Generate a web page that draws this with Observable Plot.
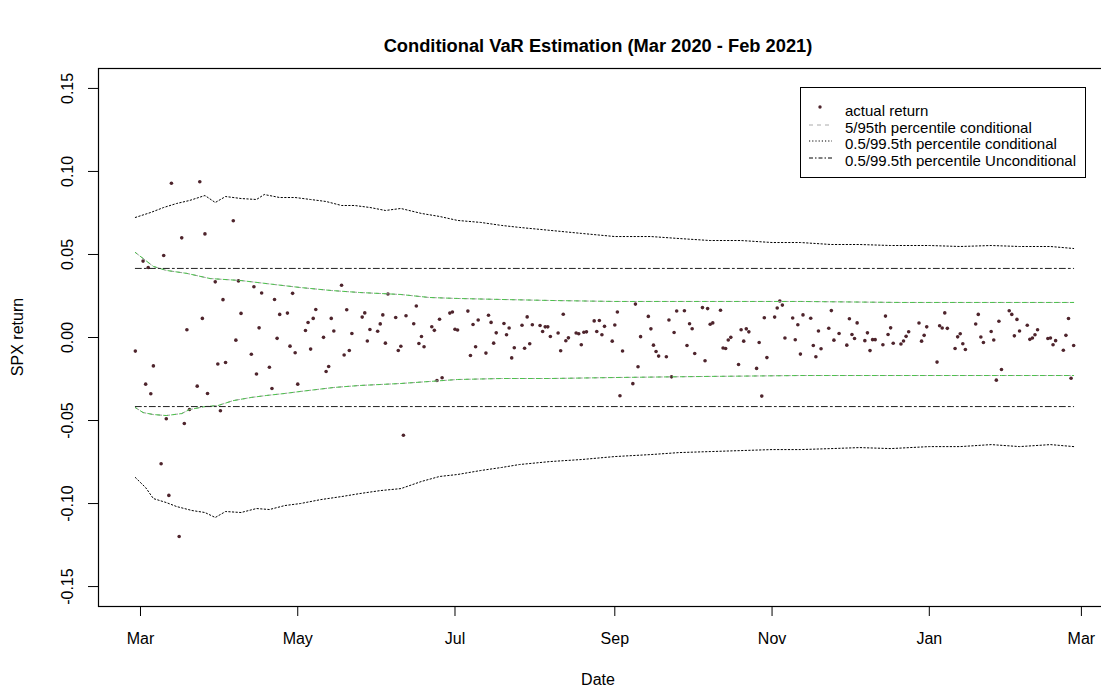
<!DOCTYPE html>
<html><head><meta charset="utf-8">
<script src="https://cdn.jsdelivr.net/npm/d3@7"></script>
<script src="https://cdn.jsdelivr.net/npm/@observablehq/plot@0.6"></script>
<style>
html,body{margin:0;padding:0;overflow:hidden;background:#fff;}
#wrap{position:relative;width:1101px;height:694px;overflow:hidden;font-family:"Liberation Sans",Arial,sans-serif;color:#000;}
#chart{position:absolute;left:0;top:0;width:1125px;}
#chart svg{max-width:none !important;}
#title{position:absolute;left:298px;width:600px;top:35px;text-align:center;font-weight:bold;font-size:18.3px;white-space:nowrap;}
#xlab{position:absolute;left:398px;width:400px;top:671px;text-align:center;font-size:16px;}
#ylab{position:absolute;left:18px;top:337px;transform:translate(-50%,-50%) rotate(-90deg);font-size:16px;white-space:nowrap;}
#legend{position:absolute;left:800px;top:87px;width:286px;height:91px;box-sizing:border-box;border:1px solid #000;background:#fff;}
.row{position:absolute;left:0;width:284px;height:17px;}
.row svg{position:absolute;left:4px;top:0;}
.row span{position:absolute;left:44px;top:0;font-size:15px;line-height:17px;white-space:nowrap;}
</style></head><body>
<div id="wrap">
  <div id="chart"></div>
  <div id="title">Conditional VaR Estimation (Mar 2020 - Feb 2021)</div>
  <div id="xlab">Date</div>
  <div id="ylab">SPX return</div>
  <div id="legend"></div>
</div>
<script>
// ---- data ----
const tradeDates = [
"2020-02-28",
"2020-03-02","2020-03-03","2020-03-04","2020-03-05","2020-03-06","2020-03-09","2020-03-10","2020-03-11","2020-03-12","2020-03-13","2020-03-16","2020-03-17","2020-03-18","2020-03-19","2020-03-20","2020-03-23","2020-03-24","2020-03-25","2020-03-26","2020-03-27","2020-03-30","2020-03-31",
"2020-04-01","2020-04-02","2020-04-03","2020-04-06","2020-04-07","2020-04-08","2020-04-09","2020-04-13","2020-04-14","2020-04-15","2020-04-16","2020-04-17","2020-04-20","2020-04-21","2020-04-22","2020-04-23","2020-04-24","2020-04-27","2020-04-28","2020-04-29","2020-04-30",
"2020-05-01","2020-05-04","2020-05-05","2020-05-06","2020-05-07","2020-05-08","2020-05-11","2020-05-12","2020-05-13","2020-05-14","2020-05-15","2020-05-18","2020-05-19","2020-05-20","2020-05-21","2020-05-22","2020-05-26","2020-05-27","2020-05-28","2020-05-29",
"2020-06-01","2020-06-02","2020-06-03","2020-06-04","2020-06-05","2020-06-08","2020-06-09","2020-06-10","2020-06-11","2020-06-12","2020-06-15","2020-06-16","2020-06-17","2020-06-18","2020-06-19","2020-06-22","2020-06-23","2020-06-24","2020-06-25","2020-06-26","2020-06-29","2020-06-30",
"2020-07-01","2020-07-02","2020-07-06","2020-07-07","2020-07-08","2020-07-09","2020-07-10","2020-07-13","2020-07-14","2020-07-15","2020-07-16","2020-07-17","2020-07-20","2020-07-21","2020-07-22","2020-07-23","2020-07-24","2020-07-27","2020-07-28","2020-07-29","2020-07-30","2020-07-31",
"2020-08-03","2020-08-04","2020-08-05","2020-08-06","2020-08-07","2020-08-10","2020-08-11","2020-08-12","2020-08-13","2020-08-14","2020-08-17","2020-08-18","2020-08-19","2020-08-20","2020-08-21","2020-08-24","2020-08-25","2020-08-26","2020-08-27","2020-08-28","2020-08-31",
"2020-09-01","2020-09-02","2020-09-03","2020-09-04","2020-09-08","2020-09-09","2020-09-10","2020-09-11","2020-09-14","2020-09-15","2020-09-16","2020-09-17","2020-09-18","2020-09-21","2020-09-22","2020-09-23","2020-09-24","2020-09-25","2020-09-28","2020-09-29","2020-09-30",
"2020-10-01","2020-10-02","2020-10-05","2020-10-06","2020-10-07","2020-10-08","2020-10-09","2020-10-12","2020-10-13","2020-10-14","2020-10-15","2020-10-16","2020-10-19","2020-10-20","2020-10-21","2020-10-22","2020-10-23","2020-10-26","2020-10-27","2020-10-28","2020-10-29","2020-10-30",
"2020-11-02","2020-11-03","2020-11-04","2020-11-05","2020-11-06","2020-11-09","2020-11-10","2020-11-11","2020-11-12","2020-11-13","2020-11-16","2020-11-17","2020-11-18","2020-11-19","2020-11-20","2020-11-23","2020-11-24","2020-11-25","2020-11-27","2020-11-30",
"2020-12-01","2020-12-02","2020-12-03","2020-12-04","2020-12-07","2020-12-08","2020-12-09","2020-12-10","2020-12-11","2020-12-14","2020-12-15","2020-12-16","2020-12-17","2020-12-18","2020-12-21","2020-12-22","2020-12-23","2020-12-24","2020-12-28","2020-12-29","2020-12-30","2020-12-31",
"2021-01-04","2021-01-05","2021-01-06","2021-01-07","2021-01-08","2021-01-11","2021-01-12","2021-01-13","2021-01-14","2021-01-15","2021-01-19","2021-01-20","2021-01-21","2021-01-22","2021-01-25","2021-01-26","2021-01-27","2021-01-28","2021-01-29",
"2021-02-01","2021-02-02","2021-02-03","2021-02-04","2021-02-05","2021-02-08","2021-02-09","2021-02-10","2021-02-11","2021-02-12","2021-02-16","2021-02-17","2021-02-18","2021-02-19","2021-02-22","2021-02-23","2021-02-24","2021-02-25","2021-02-26"
];
const spxReturn = [
-0.0082,
0.0460,-0.0281,0.0422,-0.0339,-0.0171,-0.0760,0.0494,-0.0489,-0.0951,0.0929,-0.1198,0.0600,-0.0518,0.0047,-0.0434,-0.0293,0.0938,0.0115,0.0624,-0.0337,0.0335,-0.0160,
-0.0441,0.0228,-0.0151,0.0703,-0.0016,0.0341,0.0145,-0.0101,0.0306,-0.0220,0.0058,0.0268,-0.0179,-0.0307,0.0229,-0.0005,0.0139,0.0147,-0.0052,0.0266,-0.0092,
-0.0281,0.0042,0.0090,-0.0070,0.0115,0.0169,0.0001,-0.0205,-0.0175,0.0115,0.0039,0.0315,-0.0105,0.0167,-0.0078,0.0024,0.0123,0.0148,-0.0021,0.0048,
0.0038,0.0082,0.0136,-0.0034,0.0262,0.0120,-0.0078,-0.0053,-0.0589,0.0131,0.0083,0.0190,-0.0036,0.0006,-0.0056,0.0065,0.0043,-0.0259,0.0110,-0.0242,0.0147,0.0154,
0.0050,0.0045,0.0159,-0.0108,0.0078,-0.0056,0.0105,-0.0094,0.0134,0.0091,-0.0034,0.0028,0.0084,0.0017,0.0057,-0.0123,-0.0062,0.0074,-0.0065,0.0124,-0.0038,0.0077,
0.0072,0.0036,0.0064,0.0064,0.0006,0.0027,-0.0080,0.0140,-0.0020,-0.0002,0.0027,0.0023,-0.0044,0.0032,0.0034,0.0100,0.0036,0.0102,0.0017,0.0067,-0.0022,
0.0075,0.0154,-0.0351,-0.0081,-0.0278,0.0201,-0.0176,0.0005,0.0127,0.0052,-0.0046,-0.0084,-0.0112,-0.0116,0.0105,-0.0237,0.0030,0.0160,0.0161,-0.0048,0.0083,
0.0053,-0.0096,0.0180,-0.0140,0.0174,0.0080,0.0088,0.0164,-0.0063,-0.0066,-0.0015,0.0001,-0.0163,0.0047,-0.0022,0.0052,0.0034,-0.0186,-0.0030,-0.0353,0.0119,-0.0121,
0.0123,0.0178,0.0220,0.0195,-0.0003,0.0117,-0.0014,0.0077,-0.0100,0.0136,0.0116,-0.0048,-0.0116,0.0039,-0.0068,0.0056,0.0162,-0.0016,0.0024,-0.0046,
0.0113,0.0018,-0.0006,0.0088,-0.0019,0.0028,-0.0079,-0.0013,-0.0013,-0.0044,0.0129,0.0018,0.0058,-0.0035,-0.0039,-0.0021,0.0007,0.0035,0.0087,-0.0022,0.0013,0.0064,
-0.0148,0.0071,0.0057,0.0148,0.0055,-0.0066,0.0004,0.0023,-0.0038,-0.0072,0.0081,0.0139,0.0003,-0.0030,0.0036,-0.0015,-0.0257,0.0098,-0.0193,
0.0161,0.0139,0.0010,0.0109,0.0039,0.0074,-0.0011,-0.0003,0.0017,0.0047,-0.0006,-0.0003,-0.0044,-0.0019,-0.0077,0.0013,0.0114,-0.0245,-0.0048
];

// 0.5/99.5th percentile conditional (upper)
const upper995Dates = ["2020-02-28","2020-03-05","2020-03-10","2020-03-15","2020-03-20","2020-03-26","2020-03-30","2020-04-03","2020-04-09","2020-04-15","2020-04-18","2020-04-24","2020-04-30","2020-05-06","2020-05-12","2020-05-18","2020-05-23","2020-05-29","2020-06-04","2020-06-10","2020-06-18","2020-06-25","2020-07-02","2020-07-11","2020-07-19","2020-07-26","2020-08-07","2020-08-19","2020-09-01","2020-09-15","2020-09-26","2020-10-08","2020-10-20","2020-11-01","2020-11-12","2020-11-24","2020-12-05","2020-12-17","2021-01-01","2021-01-13","2021-01-25","2021-02-05","2021-02-17","2021-02-26"];
const upper995 = [0.0723,0.0753,0.0783,0.0807,0.0825,0.0855,0.0813,0.0849,0.0837,0.0831,0.0861,0.0843,0.0843,0.0831,0.0819,0.0795,0.0795,0.0783,0.0765,0.0777,0.0747,0.0729,0.0705,0.0693,0.0675,0.0663,0.0645,0.0627,0.0608,0.0608,0.0596,0.0584,0.0584,0.0572,0.0572,0.0560,0.0560,0.0554,0.0554,0.0548,0.0554,0.0548,0.0548,0.0536];
// 0.5/99.5th percentile conditional (lower)
const lower005Dates = ["2020-02-28","2020-03-03","2020-03-06","2020-03-11","2020-03-15","2020-03-21","2020-03-26","2020-03-30","2020-04-03","2020-04-09","2020-04-15","2020-04-20","2020-04-26","2020-05-02","2020-05-10","2020-05-18","2020-05-25","2020-06-02","2020-06-10","2020-06-18","2020-06-25","2020-07-02","2020-07-11","2020-07-19","2020-07-26","2020-08-07","2020-08-19","2020-09-01","2020-09-15","2020-09-26","2020-10-08","2020-10-20","2020-11-01","2020-11-12","2020-11-24","2020-12-05","2020-12-17","2021-01-01","2021-01-13","2021-01-25","2021-02-05","2021-02-17","2021-02-26"];
const lower005 = [-0.0843,-0.0904,-0.0970,-0.0994,-0.1018,-0.1042,-0.1054,-0.1084,-0.1048,-0.1054,-0.1030,-0.1036,-0.1012,-0.1000,-0.0976,-0.0958,-0.0940,-0.0922,-0.0910,-0.0867,-0.0837,-0.0825,-0.0801,-0.0783,-0.0765,-0.0747,-0.0735,-0.0717,-0.0705,-0.0693,-0.0687,-0.0681,-0.0675,-0.0675,-0.0669,-0.0663,-0.0669,-0.0657,-0.0657,-0.0645,-0.0657,-0.0645,-0.0657];
// 5/95th percentile conditional (upper)
const upper95Dates = ["2020-02-28","2020-03-02","2020-03-06","2020-03-11","2020-03-19","2020-03-28","2020-04-09","2020-04-22","2020-05-02","2020-05-14","2020-05-25","2020-06-10","2020-06-21","2020-07-02","2020-07-19","2020-08-07","2020-09-01","2020-10-04","2020-11-12","2020-12-21","2021-01-29","2021-02-26"];
const upper95 = [0.0512,0.0476,0.0428,0.0404,0.0386,0.0355,0.0343,0.0319,0.0301,0.0283,0.0271,0.0259,0.0241,0.0235,0.0229,0.0223,0.0217,0.0217,0.0217,0.0211,0.0211,0.0211];
// 5/95th percentile conditional (lower)
const lower05Dates = ["2020-02-28","2020-03-02","2020-03-06","2020-03-11","2020-03-17","2020-03-20","2020-03-26","2020-03-31","2020-04-06","2020-04-13","2020-04-19","2020-04-26","2020-05-02","2020-05-15","2020-05-25","2020-06-10","2020-06-21","2020-07-02","2020-07-19","2020-08-07","2020-09-01","2020-10-04","2020-11-12","2020-12-21","2021-01-29","2021-02-26"];
const lower05 = [-0.0422,-0.0452,-0.0464,-0.0470,-0.0458,-0.0434,-0.0416,-0.0410,-0.0380,-0.0361,-0.0349,-0.0337,-0.0325,-0.0301,-0.0289,-0.0277,-0.0265,-0.0253,-0.0247,-0.0247,-0.0241,-0.0235,-0.0229,-0.0229,-0.0229,-0.0229];
// 0.5/99.5th percentile unconditional
const uncondDates = ["2020-02-28","2021-02-26"];
const uncondUpper = [0.0416,0.0416];
const uncondLower = [-0.0416,-0.0416];

// axes
const xDomain = ["2020-02-13T17:00:00Z","2021-03-12T07:00:00Z"];
const yDomain = [-0.162,0.162];
const xTicks = ["2020-03-01","2020-05-01","2020-07-01","2020-09-01","2020-11-01","2021-01-01","2021-03-01"];
const yTicks = [-0.15,-0.10,-0.05,0.00,0.05,0.10,0.15];
const legendLabels = ["actual return","5/95th percentile conditional","0.5/99.5th percentile conditional","0.5/99.5th percentile Unconditional"];

// ---- build ----
const parse = d3.utcParse("%Y-%m-%d");
const pts = tradeDates.map((d,i)=>({date:parse(d), v:spxReturn[i]}));
const series = (ds, vs) => ds.map((d,i)=>({date:parse(d), v:vs[i]}));

const dotCol = "#4e242c";
const lineProps = (stroke, dash, extra={}) => ({x:"date", y:"v", stroke, strokeWidth:1, strokeDasharray:dash, ...extra});

const chart = Plot.plot({
  width: 1125, height: 694,
  marginLeft: 98, marginRight: 15, marginTop: 68, marginBottom: 88,
  style: {fontFamily:"'Liberation Sans', Arial, sans-serif", fontSize:"16px", color:"#000", background:"transparent", maxWidth:"none"},
  x: {type:"utc", domain: xDomain.map(d=>new Date(d))},
  y: {domain: yDomain},
  marks: [
    Plot.dot(pts, {x:"date", y:"v", r:1.8, fill:dotCol, stroke:"none"}),
    Plot.line(series(upper95Dates, upper95), lineProps("#9a9a9a","4,4")),
    Plot.line(series(upper95Dates, upper95), lineProps("#4cc24c","4,4",{strokeDashoffset:2})),
    Plot.line(series(lower05Dates, lower05), lineProps("#9a9a9a","4,4")),
    Plot.line(series(lower05Dates, lower05), lineProps("#4cc24c","4,4",{strokeDashoffset:2})),
    Plot.line(series(upper995Dates, upper995), lineProps("#000","1.4,2.2")),
    Plot.line(series(lower005Dates, lower005), lineProps("#000","1.4,2.2")),
    Plot.line(series(uncondDates, uncondUpper), lineProps("#222","6,3,2,3")),
    Plot.line(series(uncondDates, uncondLower), lineProps("#222","6,3,2,3")),
    Plot.frame({stroke:"#000", strokeWidth:1.2}),
    Plot.axisX(xTicks.map(parse), {tickSize:10, tickPadding:16, tickFormat:d3.utcFormat("%b"), label:null, fontSize:16}),
    Plot.axisY(yTicks, {tickSize:10, tickPadding:16, tickRotate:-90, textAnchor:"middle", lineAnchor:"bottom", tickFormat:d=>d.toFixed(2), label:null, fontSize:16})
  ]
});
chart.style.maxWidth = "none";
document.getElementById("chart").appendChild(chart);

// legend
const leg = document.getElementById("legend");
const samples = [
  g => g.append("circle").attr("cx",15).attr("cy",5).attr("r",1.7).attr("fill",dotCol),
  g => g.append("line").attr("x1",4).attr("x2",27).attr("y1",6).attr("y2",6).attr("stroke","#aaa").attr("stroke-dasharray","4,4"),
  g => g.append("line").attr("x1",4).attr("x2",27).attr("y1",6).attr("y2",6).attr("stroke","#000").attr("stroke-dasharray","1.2,2"),
  g => g.append("line").attr("x1",4).attr("x2",27).attr("y1",6).attr("y2",6).attr("stroke","#000").attr("stroke-dasharray","4,2,1.5,2")
];
legendLabels.forEach((t,i)=>{
  const row = d3.select(leg).append("div").attr("class","row").style("top",(14+i*16.7)+"px");
  const s = row.append("svg").attr("width",32).attr("height",12);
  samples[i](s);
  row.append("span").text(t);
});
</script>
</body></html>
